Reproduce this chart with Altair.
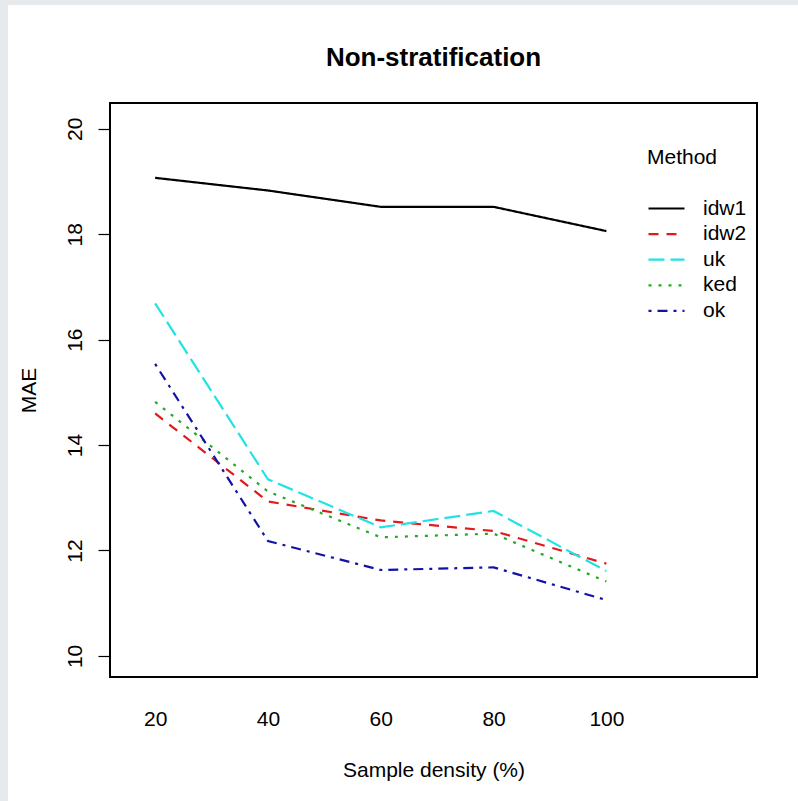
import altair as alt
import pandas as pd

# ---- data ----
density = [20, 40, 60, 80, 100]
methods = ["idw1", "idw2", "uk", "ked", "ok"]
idw1 = [19.07, 18.83, 18.52, 18.52, 18.06]
idw2 = [14.60, 12.93, 12.57, 12.37, 11.75]
uk = [16.69, 13.35, 12.44, 12.75, 11.61]
ked = [14.82, 13.12, 12.25, 12.32, 11.41]
ok = [15.54, 12.18, 11.63, 11.68, 11.06]

colors = ["#000000", "#e01b1b", "#22e2e6", "#22aa22", "#1212a6"]
dashes = [[1, 0], [10, 8], [16, 6], [3, 7], [3, 6, 10, 6]]

series = {"idw1": idw1, "idw2": idw2, "uk": uk, "ked": ked, "ok": ok}
rows = []
for order, m in enumerate(methods):
    for d, v in zip(density, series[m]):
        rows.append({"density": d, "MAE": v, "Method": m, "ord": order})
df = pd.DataFrame(rows)

W, H = 647, 574
PAD_L, PAD_T = 110, 103
FONT = "Liberation Sans"

one = pd.DataFrame({"a": [0]})

# grey page strips (decoration)
strip_left = alt.Chart(one).mark_rect(color="#e6eaed").encode(
    x=alt.value(-PAD_L), x2=alt.value(-PAD_L + 8),
    y=alt.value(-PAD_T), y2=alt.value(801 - PAD_T),
)
strip_top = alt.Chart(one).mark_rect(color="#e6eaed").encode(
    x=alt.value(-PAD_L), x2=alt.value(798 - PAD_L),
    y=alt.value(-PAD_T), y2=alt.value(-PAD_T + 5),
)

legend_kw = dict(
    title="Method", orient="none", legendX=537, legendY=44,
    titleFontSize=21, titleFontWeight="normal", titleColor="black",
    titleFont=FONT, titlePadding=30,
    labelFontSize=21, labelColor="black", labelFont=FONT,
    symbolType="M-1,0H3", symbolSize=324, symbolStrokeWidth=2.2,
    symbolFillColor="transparent",
    labelOffset=35, rowPadding=3.6,
)

lines = alt.Chart(df).mark_line(strokeWidth=2.2, clip=True).encode(
    x=alt.X(
        "density:Q",
        scale=alt.Scale(domain=[12, 126.7], nice=False, zero=False),
        axis=alt.Axis(
            values=density, ticks=False, tickSize=0, domain=False, grid=False,
            labelPadding=31, labelFontSize=21, labelColor="black",
            labelBaseline="top", labelFont=FONT,
            title="Sample density (%)", titleFontSize=21, titleFontWeight="normal",
            titleColor="black", titleFont=FONT, titleX=W / 2, titleY=99,
            titleBaseline="alphabetic", titleAlign="center",
        ),
    ),
    y=alt.Y(
        "MAE:Q",
        scale=alt.Scale(domain=[9.6, 20.49], nice=False, zero=False),
        axis=alt.Axis(
            values=[10, 12, 14, 16, 18, 20], domain=False, grid=False,
            ticks=True, tickSize=12, tickColor="black", tickWidth=1.2,
            labelAngle=270, labelAlign="center", labelBaseline="alphabetic",
            labelPadding=17, labelFontSize=21, labelColor="black", labelFont=FONT,
            title="MAE", titleFontSize=21, titleFontWeight="normal",
            titleColor="black", titleFont=FONT, titleX=-75, titleY=H / 2,
            titleBaseline="alphabetic", titleAlign="center", titleAngle=270,
        ),
    ),
    color=alt.Color(
        "Method:N",
        scale=alt.Scale(domain=methods, range=colors),
        legend=alt.Legend(**legend_kw),
    ),
    strokeDash=alt.StrokeDash(
        "Method:N",
        scale=alt.Scale(domain=methods, range=dashes),
        legend=alt.Legend(**legend_kw),
    ),
    order=alt.Order("ord:Q"),
)

chart = alt.layer(strip_left, strip_top, lines).properties(
    width=W, height=H,
    autosize=alt.AutoSizeParams(type="none"),
    padding={"left": PAD_L, "top": PAD_T, "right": 798 - PAD_L - W, "bottom": 801 - PAD_T - H},
    title=alt.Title(
        "Non-stratification", fontSize=26, fontWeight="bold", font=FONT,
        color="black", anchor="middle", frame="group", offset=0, dy=91.5,
        baseline="alphabetic",
    ),
).configure(
    background="white", font=FONT,
).configure_view(
    stroke="black", strokeWidth=2,
)

chart.save("out.html", embed_options={"renderer": "svg", "actions": False})
